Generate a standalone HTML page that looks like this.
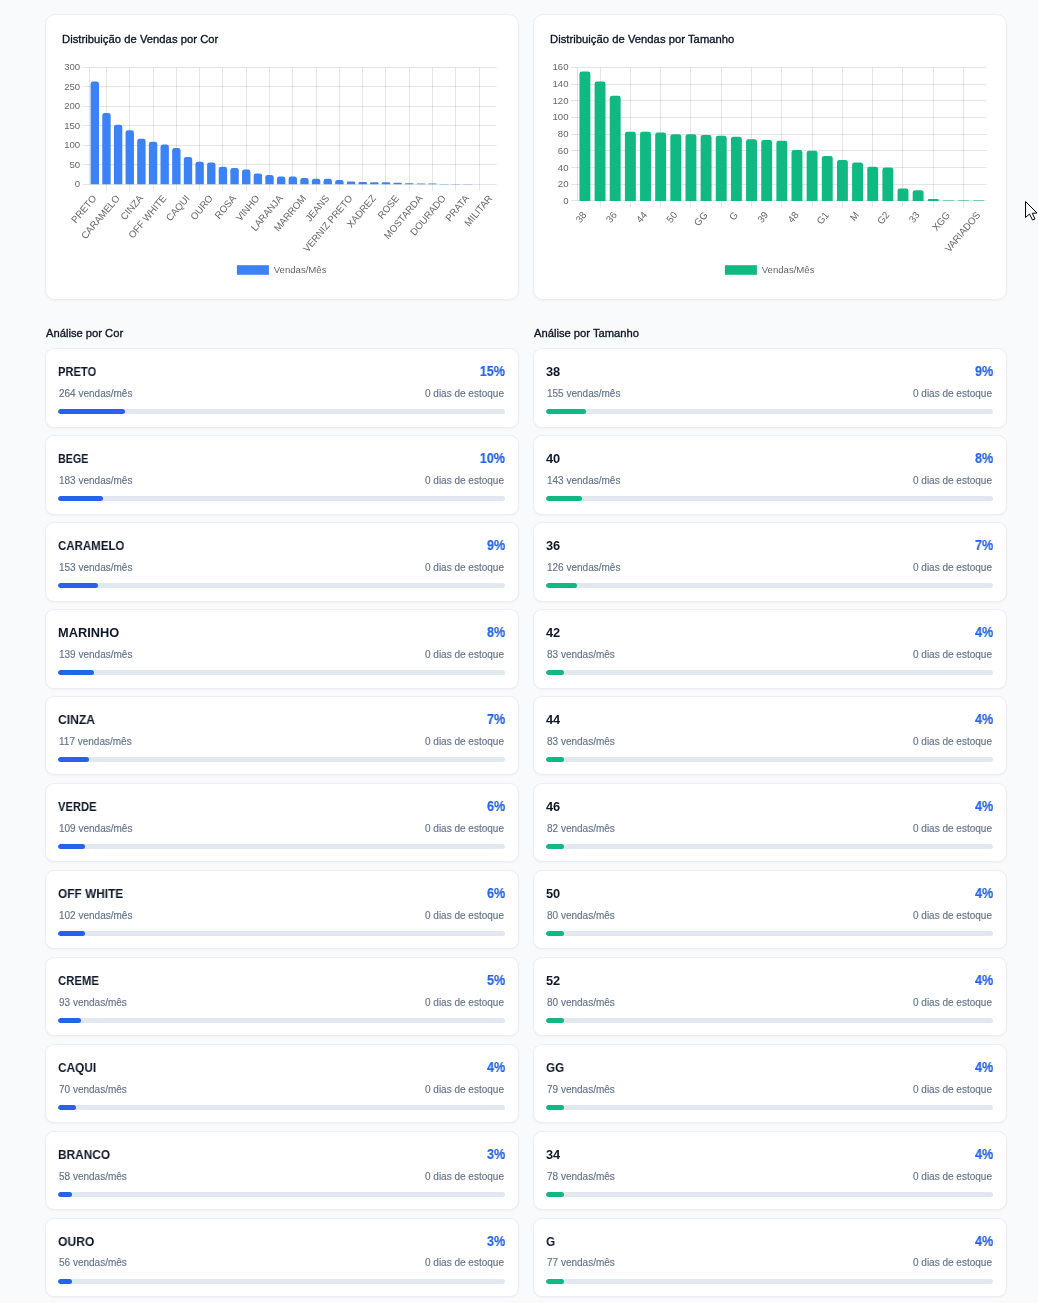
<!DOCTYPE html>
<html><head><meta charset="utf-8">
<style>
*{box-sizing:border-box;margin:0;padding:0}
html,body{width:1038px;height:1303px;overflow:hidden;background:#f8fafc;font-family:"Liberation Sans",sans-serif}
.card{position:absolute;top:14px;width:474px;height:286px;background:#fff;border:1px solid #edeef1;border-radius:10px;box-shadow:0 1px 2px rgba(0,0,0,0.04)}
.ct{position:absolute;left:15.5px;top:17px;font-size:11.2px;letter-spacing:0.05px;color:#111827;-webkit-text-stroke:0.35px #111827;white-space:nowrap;line-height:14px}
.h{position:absolute;top:326px;font-size:11.2px;color:#111827;-webkit-text-stroke:0.35px #111827;white-space:nowrap;line-height:14px}
.lc{position:absolute;width:474px;height:79.3px;background:#fff;border:1px solid #edeef1;border-radius:9px;box-shadow:0 1px 2px rgba(0,0,0,0.04)}
.nm{position:absolute;left:12.2px;top:14.8px;transform-origin:0 0;font-size:12.8px;font-weight:bold;color:#0f172a;white-space:nowrap;line-height:16px}
.pc{position:absolute;right:13.2px;top:13.7px;font-size:14px;transform:scaleX(0.9);transform-origin:100% 0;font-weight:bold;color:#2563eb;-webkit-text-stroke:0.2px #2563eb;white-space:nowrap;line-height:16px}
.sb{position:absolute;left:12.8px;top:38.6px;font-size:10px;color:#64748b;-webkit-text-stroke:0.15px #64748b;white-space:nowrap;line-height:12px}
.sr{position:absolute;right:14px;top:38.6px;font-size:10px;color:#64748b;-webkit-text-stroke:0.15px #64748b;white-space:nowrap;line-height:12px}
.tr{position:absolute;left:12.2px;top:60px;width:447px;height:4.8px;border-radius:3px;background:#e2e8f0;overflow:hidden}
.fl{height:100%;border-radius:3px}
svg{position:absolute;left:0;top:0;will-change:transform}
.ct,.h,.nm,.pc,.sb,.sr{will-change:transform}
.tk{font-family:"Liberation Sans",sans-serif;font-size:9.6px;fill:#666}
</style></head><body>
<div class="card" style="left:45px"><div class="ct">Distribuição de Vendas por Cor</div></div>
<div class="card" style="left:533px"><div class="ct">Distribuição de Vendas por Tamanho</div></div>
<svg width="1038" height="310" viewBox="0 0 1038 310">
<line x1="82.60" y1="184.5" x2="496.60" y2="184.5" stroke="rgba(0,0,0,0.1)" stroke-width="1"/>
<text x="80.20" y="183.70" text-anchor="end" dominant-baseline="central" class="tk" transform="translate(0 183.70) scale(1 1.03) translate(0 -183.70)">0</text>
<line x1="82.60" y1="164.5" x2="496.60" y2="164.5" stroke="rgba(0,0,0,0.1)" stroke-width="1"/>
<text x="80.20" y="164.22" text-anchor="end" dominant-baseline="central" class="tk" transform="translate(0 164.22) scale(1 1.03) translate(0 -164.22)">50</text>
<line x1="82.60" y1="145.5" x2="496.60" y2="145.5" stroke="rgba(0,0,0,0.1)" stroke-width="1"/>
<text x="80.20" y="144.73" text-anchor="end" dominant-baseline="central" class="tk" transform="translate(0 144.73) scale(1 1.03) translate(0 -144.73)">100</text>
<line x1="82.60" y1="125.5" x2="496.60" y2="125.5" stroke="rgba(0,0,0,0.1)" stroke-width="1"/>
<text x="80.20" y="125.25" text-anchor="end" dominant-baseline="central" class="tk" transform="translate(0 125.25) scale(1 1.03) translate(0 -125.25)">150</text>
<line x1="82.60" y1="106.5" x2="496.60" y2="106.5" stroke="rgba(0,0,0,0.1)" stroke-width="1"/>
<text x="80.20" y="105.77" text-anchor="end" dominant-baseline="central" class="tk" transform="translate(0 105.77) scale(1 1.03) translate(0 -105.77)">200</text>
<line x1="82.60" y1="86.5" x2="496.60" y2="86.5" stroke="rgba(0,0,0,0.1)" stroke-width="1"/>
<text x="80.20" y="86.28" text-anchor="end" dominant-baseline="central" class="tk" transform="translate(0 86.28) scale(1 1.03) translate(0 -86.28)">250</text>
<line x1="82.60" y1="67.5" x2="496.60" y2="67.5" stroke="rgba(0,0,0,0.1)" stroke-width="1"/>
<text x="80.20" y="66.80" text-anchor="end" dominant-baseline="central" class="tk" transform="translate(0 66.80) scale(1 1.03) translate(0 -66.80)">300</text>
<line x1="106.5" y1="67.40" x2="106.5" y2="190.70" stroke="rgba(0,0,0,0.1)" stroke-width="1"/>
<line x1="129.5" y1="67.40" x2="129.5" y2="190.70" stroke="rgba(0,0,0,0.1)" stroke-width="1"/>
<line x1="153.5" y1="67.40" x2="153.5" y2="190.70" stroke="rgba(0,0,0,0.1)" stroke-width="1"/>
<line x1="176.5" y1="67.40" x2="176.5" y2="190.70" stroke="rgba(0,0,0,0.1)" stroke-width="1"/>
<line x1="199.5" y1="67.40" x2="199.5" y2="190.70" stroke="rgba(0,0,0,0.1)" stroke-width="1"/>
<line x1="222.5" y1="67.40" x2="222.5" y2="190.70" stroke="rgba(0,0,0,0.1)" stroke-width="1"/>
<line x1="246.5" y1="67.40" x2="246.5" y2="190.70" stroke="rgba(0,0,0,0.1)" stroke-width="1"/>
<line x1="269.5" y1="67.40" x2="269.5" y2="190.70" stroke="rgba(0,0,0,0.1)" stroke-width="1"/>
<line x1="292.5" y1="67.40" x2="292.5" y2="190.70" stroke="rgba(0,0,0,0.1)" stroke-width="1"/>
<line x1="316.5" y1="67.40" x2="316.5" y2="190.70" stroke="rgba(0,0,0,0.1)" stroke-width="1"/>
<line x1="339.5" y1="67.40" x2="339.5" y2="190.70" stroke="rgba(0,0,0,0.1)" stroke-width="1"/>
<line x1="362.5" y1="67.40" x2="362.5" y2="190.70" stroke="rgba(0,0,0,0.1)" stroke-width="1"/>
<line x1="385.5" y1="67.40" x2="385.5" y2="190.70" stroke="rgba(0,0,0,0.1)" stroke-width="1"/>
<line x1="409.5" y1="67.40" x2="409.5" y2="190.70" stroke="rgba(0,0,0,0.1)" stroke-width="1"/>
<line x1="432.5" y1="67.40" x2="432.5" y2="190.70" stroke="rgba(0,0,0,0.1)" stroke-width="1"/>
<line x1="455.5" y1="67.40" x2="455.5" y2="190.70" stroke="rgba(0,0,0,0.1)" stroke-width="1"/>
<line x1="479.5" y1="67.40" x2="479.5" y2="190.70" stroke="rgba(0,0,0,0.1)" stroke-width="1"/>
<line x1="89.5" y1="67.40" x2="89.5" y2="184.30" stroke="rgba(0,0,0,0.1)" stroke-width="1"/>
<path d="M90.63,184.30 L90.63,83.83 Q90.63,81.43 93.03,81.43 L96.62,81.43 Q99.02,81.43 99.02,83.83 L99.02,184.30 Z" fill="#3b82f6"/>
<path d="M102.28,184.30 L102.28,115.39 Q102.28,112.99 104.68,112.99 L108.26,112.99 Q110.66,112.99 110.66,115.39 L110.66,184.30 Z" fill="#3b82f6"/>
<path d="M113.92,184.30 L113.92,127.08 Q113.92,124.68 116.32,124.68 L119.91,124.68 Q122.31,124.68 122.31,127.08 L122.31,184.30 Z" fill="#3b82f6"/>
<path d="M125.57,184.30 L125.57,132.54 Q125.57,130.14 127.97,130.14 L131.55,130.14 Q133.95,130.14 133.95,132.54 L133.95,184.30 Z" fill="#3b82f6"/>
<path d="M137.21,184.30 L137.21,141.11 Q137.21,138.71 139.61,138.71 L143.20,138.71 Q145.60,138.71 145.60,141.11 L145.60,184.30 Z" fill="#3b82f6"/>
<path d="M148.86,184.30 L148.86,144.23 Q148.86,141.83 151.26,141.83 L154.84,141.83 Q157.24,141.83 157.24,144.23 L157.24,184.30 Z" fill="#3b82f6"/>
<path d="M160.50,184.30 L160.50,146.95 Q160.50,144.55 162.90,144.55 L166.49,144.55 Q168.89,144.55 168.89,146.95 L168.89,184.30 Z" fill="#3b82f6"/>
<path d="M172.15,184.30 L172.15,150.46 Q172.15,148.06 174.55,148.06 L178.14,148.06 Q180.54,148.06 180.54,150.46 L180.54,184.30 Z" fill="#3b82f6"/>
<path d="M183.80,184.30 L183.80,159.42 Q183.80,157.02 186.20,157.02 L189.78,157.02 Q192.18,157.02 192.18,159.42 L192.18,184.30 Z" fill="#3b82f6"/>
<path d="M195.44,184.30 L195.44,164.10 Q195.44,161.70 197.84,161.70 L201.43,161.70 Q203.83,161.70 203.83,164.10 L203.83,184.30 Z" fill="#3b82f6"/>
<path d="M207.09,184.30 L207.09,164.88 Q207.09,162.48 209.49,162.48 L213.07,162.48 Q215.47,162.48 215.47,164.88 L215.47,184.30 Z" fill="#3b82f6"/>
<path d="M218.73,184.30 L218.73,169.17 Q218.73,166.77 221.13,166.77 L224.72,166.77 Q227.12,166.77 227.12,169.17 L227.12,184.30 Z" fill="#3b82f6"/>
<path d="M230.38,184.30 L230.38,170.33 Q230.38,167.93 232.78,167.93 L236.36,167.93 Q238.76,167.93 238.76,170.33 L238.76,184.30 Z" fill="#3b82f6"/>
<path d="M242.02,184.30 L242.02,171.89 Q242.02,169.49 244.42,169.49 L248.01,169.49 Q250.41,169.49 250.41,171.89 L250.41,184.30 Z" fill="#3b82f6"/>
<path d="M253.67,184.30 L253.67,175.79 Q253.67,173.39 256.07,173.39 L259.66,173.39 Q262.06,173.39 262.06,175.79 L262.06,184.30 Z" fill="#3b82f6"/>
<path d="M265.32,184.30 L265.32,177.35 Q265.32,174.95 267.72,174.95 L271.30,174.95 Q273.70,174.95 273.70,177.35 L273.70,184.30 Z" fill="#3b82f6"/>
<path d="M276.96,184.30 L276.96,178.91 Q276.96,176.51 279.36,176.51 L282.95,176.51 Q285.35,176.51 285.35,178.91 L285.35,184.30 Z" fill="#3b82f6"/>
<path d="M288.61,184.30 L288.61,178.91 Q288.61,176.51 291.01,176.51 L294.59,176.51 Q296.99,176.51 296.99,178.91 L296.99,184.30 Z" fill="#3b82f6"/>
<path d="M300.25,184.30 L300.25,180.47 Q300.25,178.07 302.65,178.07 L306.24,178.07 Q308.64,178.07 308.64,180.47 L308.64,184.30 Z" fill="#3b82f6"/>
<path d="M311.90,184.30 L311.90,181.24 Q311.90,178.84 314.30,178.84 L317.88,178.84 Q320.28,178.84 320.28,181.24 L320.28,184.30 Z" fill="#3b82f6"/>
<path d="M323.54,184.30 L323.54,181.24 Q323.54,178.84 325.94,178.84 L329.53,178.84 Q331.93,178.84 331.93,181.24 L331.93,184.30 Z" fill="#3b82f6"/>
<path d="M335.19,184.30 L335.19,182.16 Q335.19,180.01 337.33,180.01 L341.43,180.01 Q343.58,180.01 343.58,182.16 L343.58,184.30 Z" fill="#3b82f6"/>
<path d="M346.84,184.30 L346.84,182.94 Q346.84,181.57 348.20,181.57 L353.86,181.57 Q355.22,181.57 355.22,182.94 L355.22,184.30 Z" fill="#3b82f6"/>
<path d="M358.48,184.30 L358.48,183.13 Q358.48,181.96 359.65,181.96 L365.70,181.96 Q366.87,181.96 366.87,183.13 L366.87,184.30 Z" fill="#3b82f6"/>
<path d="M370.13,184.30 L370.13,183.33 Q370.13,182.35 371.10,182.35 L377.54,182.35 Q378.51,182.35 378.51,183.33 L378.51,184.30 Z" fill="#3b82f6"/>
<path d="M381.77,184.30 L381.77,183.33 Q381.77,182.35 382.75,182.35 L389.18,182.35 Q390.16,182.35 390.16,183.33 L390.16,184.30 Z" fill="#3b82f6"/>
<path d="M393.42,184.30 L393.42,183.52 Q393.42,182.74 394.20,182.74 L401.02,182.74 Q401.80,182.74 401.80,183.52 L401.80,184.30 Z" fill="#3b82f6"/>
<path d="M405.06,184.30 L405.06,183.72 Q405.06,183.13 405.65,183.13 L412.87,183.13 Q413.45,183.13 413.45,183.72 L413.45,184.30 Z" fill="#3b82f6"/>
<path d="M416.71,184.30 L416.71,183.91 Q416.71,183.52 417.10,183.52 L424.71,183.52 Q425.10,183.52 425.10,183.91 L425.10,184.30 Z" fill="#3b82f6"/>
<path d="M428.36,184.30 L428.36,183.91 Q428.36,183.52 428.75,183.52 L436.35,183.52 Q436.74,183.52 436.74,183.91 L436.74,184.30 Z" fill="#3b82f6"/>
<path d="M440.00,184.30 L440.00,184.11 Q440.00,183.91 440.20,183.91 L448.19,183.91 Q448.39,183.91 448.39,184.11 L448.39,184.30 Z" fill="#3b82f6"/>
<path d="M451.65,184.30 L451.65,184.11 Q451.65,183.91 451.84,183.91 L459.84,183.91 Q460.03,183.91 460.03,184.11 L460.03,184.30 Z" fill="#3b82f6"/>
<path d="M463.29,184.30 L463.29,184.11 Q463.29,183.91 463.49,183.91 L471.48,183.91 Q471.68,183.91 471.68,184.11 L471.68,184.30 Z" fill="#3b82f6"/>
<text x="94.22" y="196.30" text-anchor="end" dominant-baseline="central" transform="rotate(-50 94.22 196.30) translate(0 196.30) scale(1 1.03) translate(0 -196.30)" class="tk">PRETO</text>
<text x="117.51" y="196.30" text-anchor="end" dominant-baseline="central" transform="rotate(-50 117.51 196.30) translate(0 196.30) scale(1 1.03) translate(0 -196.30)" class="tk">CARAMELO</text>
<text x="140.81" y="196.30" text-anchor="end" dominant-baseline="central" transform="rotate(-50 140.81 196.30) translate(0 196.30) scale(1 1.03) translate(0 -196.30)" class="tk">CINZA</text>
<text x="164.10" y="196.30" text-anchor="end" dominant-baseline="central" transform="rotate(-50 164.10 196.30) translate(0 196.30) scale(1 1.03) translate(0 -196.30)" class="tk">OFF WHITE</text>
<text x="187.39" y="196.30" text-anchor="end" dominant-baseline="central" transform="rotate(-50 187.39 196.30) translate(0 196.30) scale(1 1.03) translate(0 -196.30)" class="tk">CAQUI</text>
<text x="210.68" y="196.30" text-anchor="end" dominant-baseline="central" transform="rotate(-50 210.68 196.30) translate(0 196.30) scale(1 1.03) translate(0 -196.30)" class="tk">OURO</text>
<text x="233.97" y="196.30" text-anchor="end" dominant-baseline="central" transform="rotate(-50 233.97 196.30) translate(0 196.30) scale(1 1.03) translate(0 -196.30)" class="tk">ROSA</text>
<text x="257.26" y="196.30" text-anchor="end" dominant-baseline="central" transform="rotate(-50 257.26 196.30) translate(0 196.30) scale(1 1.03) translate(0 -196.30)" class="tk">VINHO</text>
<text x="280.55" y="196.30" text-anchor="end" dominant-baseline="central" transform="rotate(-50 280.55 196.30) translate(0 196.30) scale(1 1.03) translate(0 -196.30)" class="tk">LARANJA</text>
<text x="303.85" y="196.30" text-anchor="end" dominant-baseline="central" transform="rotate(-50 303.85 196.30) translate(0 196.30) scale(1 1.03) translate(0 -196.30)" class="tk">MARROM</text>
<text x="327.14" y="196.30" text-anchor="end" dominant-baseline="central" transform="rotate(-50 327.14 196.30) translate(0 196.30) scale(1 1.03) translate(0 -196.30)" class="tk">JEANS</text>
<text x="350.43" y="196.30" text-anchor="end" dominant-baseline="central" transform="rotate(-50 350.43 196.30) translate(0 196.30) scale(1 1.03) translate(0 -196.30)" class="tk">VERNIZ PRETO</text>
<text x="373.72" y="196.30" text-anchor="end" dominant-baseline="central" transform="rotate(-50 373.72 196.30) translate(0 196.30) scale(1 1.03) translate(0 -196.30)" class="tk">XADREZ</text>
<text x="397.01" y="196.30" text-anchor="end" dominant-baseline="central" transform="rotate(-50 397.01 196.30) translate(0 196.30) scale(1 1.03) translate(0 -196.30)" class="tk">ROSE</text>
<text x="420.30" y="196.30" text-anchor="end" dominant-baseline="central" transform="rotate(-50 420.30 196.30) translate(0 196.30) scale(1 1.03) translate(0 -196.30)" class="tk">MOSTARDA</text>
<text x="443.59" y="196.30" text-anchor="end" dominant-baseline="central" transform="rotate(-50 443.59 196.30) translate(0 196.30) scale(1 1.03) translate(0 -196.30)" class="tk">DOURADO</text>
<text x="466.89" y="196.30" text-anchor="end" dominant-baseline="central" transform="rotate(-50 466.89 196.30) translate(0 196.30) scale(1 1.03) translate(0 -196.30)" class="tk">PRATA</text>
<text x="490.18" y="196.30" text-anchor="end" dominant-baseline="central" transform="rotate(-50 490.18 196.30) translate(0 196.30) scale(1 1.03) translate(0 -196.30)" class="tk">MILITAR</text>
<rect x="236.90" y="265.2" width="32" height="9.6" fill="#3b82f6"/>
<text x="273.70" y="269.2" dominant-baseline="central" class="tk" transform="translate(0 269.2) scale(1 1.03) translate(0 -269.2)">Vendas/Mês</text>
<line x1="570.94" y1="200.5" x2="986.30" y2="200.5" stroke="rgba(0,0,0,0.1)" stroke-width="1"/>
<text x="568.54" y="200.40" text-anchor="end" dominant-baseline="central" class="tk" transform="translate(0 200.40) scale(1 1.03) translate(0 -200.40)">0</text>
<line x1="570.94" y1="184.5" x2="986.30" y2="184.5" stroke="rgba(0,0,0,0.1)" stroke-width="1"/>
<text x="568.54" y="183.69" text-anchor="end" dominant-baseline="central" class="tk" transform="translate(0 183.69) scale(1 1.03) translate(0 -183.69)">20</text>
<line x1="570.94" y1="167.5" x2="986.30" y2="167.5" stroke="rgba(0,0,0,0.1)" stroke-width="1"/>
<text x="568.54" y="166.97" text-anchor="end" dominant-baseline="central" class="tk" transform="translate(0 166.97) scale(1 1.03) translate(0 -166.97)">40</text>
<line x1="570.94" y1="150.5" x2="986.30" y2="150.5" stroke="rgba(0,0,0,0.1)" stroke-width="1"/>
<text x="568.54" y="150.26" text-anchor="end" dominant-baseline="central" class="tk" transform="translate(0 150.26) scale(1 1.03) translate(0 -150.26)">60</text>
<line x1="570.94" y1="134.5" x2="986.30" y2="134.5" stroke="rgba(0,0,0,0.1)" stroke-width="1"/>
<text x="568.54" y="133.55" text-anchor="end" dominant-baseline="central" class="tk" transform="translate(0 133.55) scale(1 1.03) translate(0 -133.55)">80</text>
<line x1="570.94" y1="117.5" x2="986.30" y2="117.5" stroke="rgba(0,0,0,0.1)" stroke-width="1"/>
<text x="568.54" y="116.84" text-anchor="end" dominant-baseline="central" class="tk" transform="translate(0 116.84) scale(1 1.03) translate(0 -116.84)">100</text>
<line x1="570.94" y1="100.5" x2="986.30" y2="100.5" stroke="rgba(0,0,0,0.1)" stroke-width="1"/>
<text x="568.54" y="100.13" text-anchor="end" dominant-baseline="central" class="tk" transform="translate(0 100.13) scale(1 1.03) translate(0 -100.13)">120</text>
<line x1="570.94" y1="84.5" x2="986.30" y2="84.5" stroke="rgba(0,0,0,0.1)" stroke-width="1"/>
<text x="568.54" y="83.41" text-anchor="end" dominant-baseline="central" class="tk" transform="translate(0 83.41) scale(1 1.03) translate(0 -83.41)">140</text>
<line x1="570.94" y1="67.5" x2="986.30" y2="67.5" stroke="rgba(0,0,0,0.1)" stroke-width="1"/>
<text x="568.54" y="66.70" text-anchor="end" dominant-baseline="central" class="tk" transform="translate(0 66.70) scale(1 1.03) translate(0 -66.70)">160</text>
<line x1="600.5" y1="67.30" x2="600.5" y2="207.40" stroke="rgba(0,0,0,0.1)" stroke-width="1"/>
<line x1="630.5" y1="67.30" x2="630.5" y2="207.40" stroke="rgba(0,0,0,0.1)" stroke-width="1"/>
<line x1="660.5" y1="67.30" x2="660.5" y2="207.40" stroke="rgba(0,0,0,0.1)" stroke-width="1"/>
<line x1="690.5" y1="67.30" x2="690.5" y2="207.40" stroke="rgba(0,0,0,0.1)" stroke-width="1"/>
<line x1="721.5" y1="67.30" x2="721.5" y2="207.40" stroke="rgba(0,0,0,0.1)" stroke-width="1"/>
<line x1="751.5" y1="67.30" x2="751.5" y2="207.40" stroke="rgba(0,0,0,0.1)" stroke-width="1"/>
<line x1="781.5" y1="67.30" x2="781.5" y2="207.40" stroke="rgba(0,0,0,0.1)" stroke-width="1"/>
<line x1="812.5" y1="67.30" x2="812.5" y2="207.40" stroke="rgba(0,0,0,0.1)" stroke-width="1"/>
<line x1="842.5" y1="67.30" x2="842.5" y2="207.40" stroke="rgba(0,0,0,0.1)" stroke-width="1"/>
<line x1="872.5" y1="67.30" x2="872.5" y2="207.40" stroke="rgba(0,0,0,0.1)" stroke-width="1"/>
<line x1="902.5" y1="67.30" x2="902.5" y2="207.40" stroke="rgba(0,0,0,0.1)" stroke-width="1"/>
<line x1="933.5" y1="67.30" x2="933.5" y2="207.40" stroke="rgba(0,0,0,0.1)" stroke-width="1"/>
<line x1="963.5" y1="67.30" x2="963.5" y2="207.40" stroke="rgba(0,0,0,0.1)" stroke-width="1"/>
<line x1="577.5" y1="67.30" x2="577.5" y2="201.00" stroke="rgba(0,0,0,0.1)" stroke-width="1"/>
<path d="M579.46,201.00 L579.46,73.88 Q579.46,71.48 581.86,71.48 L587.97,71.48 Q590.37,71.48 590.37,73.88 L590.37,201.00 Z" fill="#10b981"/>
<path d="M594.61,201.00 L594.61,83.91 Q594.61,81.51 597.01,81.51 L603.11,81.51 Q605.51,81.51 605.51,83.91 L605.51,201.00 Z" fill="#10b981"/>
<path d="M609.75,201.00 L609.75,98.11 Q609.75,95.71 612.15,95.71 L618.26,95.71 Q620.66,95.71 620.66,98.11 L620.66,201.00 Z" fill="#10b981"/>
<path d="M624.90,201.00 L624.90,134.04 Q624.90,131.64 627.30,131.64 L633.41,131.64 Q635.81,131.64 635.81,134.04 L635.81,201.00 Z" fill="#10b981"/>
<path d="M640.05,201.00 L640.05,134.04 Q640.05,131.64 642.45,131.64 L648.55,131.64 Q650.95,131.64 650.95,134.04 L650.95,201.00 Z" fill="#10b981"/>
<path d="M655.19,201.00 L655.19,134.88 Q655.19,132.48 657.59,132.48 L663.70,132.48 Q666.10,132.48 666.10,134.88 L666.10,201.00 Z" fill="#10b981"/>
<path d="M670.34,201.00 L670.34,136.55 Q670.34,134.15 672.74,134.15 L678.85,134.15 Q681.25,134.15 681.25,136.55 L681.25,201.00 Z" fill="#10b981"/>
<path d="M685.49,201.00 L685.49,136.55 Q685.49,134.15 687.89,134.15 L693.99,134.15 Q696.39,134.15 696.39,136.55 L696.39,201.00 Z" fill="#10b981"/>
<path d="M700.63,201.00 L700.63,137.39 Q700.63,134.99 703.03,134.99 L709.14,134.99 Q711.54,134.99 711.54,137.39 L711.54,201.00 Z" fill="#10b981"/>
<path d="M715.78,201.00 L715.78,138.22 Q715.78,135.82 718.18,135.82 L724.29,135.82 Q726.69,135.82 726.69,138.22 L726.69,201.00 Z" fill="#10b981"/>
<path d="M730.93,201.00 L730.93,139.06 Q730.93,136.66 733.33,136.66 L739.43,136.66 Q741.83,136.66 741.83,139.06 L741.83,201.00 Z" fill="#10b981"/>
<path d="M746.07,201.00 L746.07,141.56 Q746.07,139.16 748.47,139.16 L754.58,139.16 Q756.98,139.16 756.98,141.56 L756.98,201.00 Z" fill="#10b981"/>
<path d="M761.22,201.00 L761.22,142.40 Q761.22,140.00 763.62,140.00 L769.73,140.00 Q772.13,140.00 772.13,142.40 L772.13,201.00 Z" fill="#10b981"/>
<path d="M776.37,201.00 L776.37,143.24 Q776.37,140.84 778.77,140.84 L784.87,140.84 Q787.27,140.84 787.27,143.24 L787.27,201.00 Z" fill="#10b981"/>
<path d="M791.51,201.00 L791.51,152.43 Q791.51,150.03 793.91,150.03 L800.02,150.03 Q802.42,150.03 802.42,152.43 L802.42,201.00 Z" fill="#10b981"/>
<path d="M806.66,201.00 L806.66,153.26 Q806.66,150.86 809.06,150.86 L815.17,150.86 Q817.57,150.86 817.57,153.26 L817.57,201.00 Z" fill="#10b981"/>
<path d="M821.81,201.00 L821.81,158.28 Q821.81,155.88 824.21,155.88 L830.31,155.88 Q832.71,155.88 832.71,158.28 L832.71,201.00 Z" fill="#10b981"/>
<path d="M836.95,201.00 L836.95,162.45 Q836.95,160.05 839.35,160.05 L845.46,160.05 Q847.86,160.05 847.86,162.45 L847.86,201.00 Z" fill="#10b981"/>
<path d="M852.10,201.00 L852.10,164.96 Q852.10,162.56 854.50,162.56 L860.61,162.56 Q863.01,162.56 863.01,164.96 L863.01,201.00 Z" fill="#10b981"/>
<path d="M867.25,201.00 L867.25,169.14 Q867.25,166.74 869.65,166.74 L875.75,166.74 Q878.15,166.74 878.15,169.14 L878.15,201.00 Z" fill="#10b981"/>
<path d="M882.39,201.00 L882.39,169.97 Q882.39,167.57 884.79,167.57 L890.90,167.57 Q893.30,167.57 893.30,169.97 L893.30,201.00 Z" fill="#10b981"/>
<path d="M897.54,201.00 L897.54,190.87 Q897.54,188.47 899.94,188.47 L906.05,188.47 Q908.45,188.47 908.45,190.87 L908.45,201.00 Z" fill="#10b981"/>
<path d="M912.69,201.00 L912.69,192.54 Q912.69,190.14 915.09,190.14 L921.19,190.14 Q923.59,190.14 923.59,192.54 L923.59,201.00 Z" fill="#10b981"/>
<path d="M927.83,201.00 L927.83,199.96 Q927.83,198.91 928.88,198.91 L937.69,198.91 Q938.74,198.91 938.74,199.96 L938.74,201.00 Z" fill="#10b981"/>
<path d="M942.98,201.00 L942.98,200.75 Q942.98,200.50 943.23,200.50 L953.64,200.50 Q953.89,200.50 953.89,200.75 L953.89,201.00 Z" fill="#10b981"/>
<path d="M958.13,201.00 L958.13,200.75 Q958.13,200.50 958.38,200.50 L968.78,200.50 Q969.03,200.50 969.03,200.75 L969.03,201.00 Z" fill="#10b981"/>
<path d="M973.27,201.00 L973.27,200.75 Q973.27,200.50 973.52,200.50 L983.93,200.50 Q984.18,200.50 984.18,200.75 L984.18,201.00 Z" fill="#10b981"/>
<text x="584.31" y="213.00" text-anchor="end" dominant-baseline="central" transform="rotate(-50 584.31 213.00) translate(0 213.00) scale(1 1.03) translate(0 -213.00)" class="tk">38</text>
<text x="614.61" y="213.00" text-anchor="end" dominant-baseline="central" transform="rotate(-50 614.61 213.00) translate(0 213.00) scale(1 1.03) translate(0 -213.00)" class="tk">36</text>
<text x="644.90" y="213.00" text-anchor="end" dominant-baseline="central" transform="rotate(-50 644.90 213.00) translate(0 213.00) scale(1 1.03) translate(0 -213.00)" class="tk">44</text>
<text x="675.19" y="213.00" text-anchor="end" dominant-baseline="central" transform="rotate(-50 675.19 213.00) translate(0 213.00) scale(1 1.03) translate(0 -213.00)" class="tk">50</text>
<text x="705.49" y="213.00" text-anchor="end" dominant-baseline="central" transform="rotate(-50 705.49 213.00) translate(0 213.00) scale(1 1.03) translate(0 -213.00)" class="tk">GG</text>
<text x="735.78" y="213.00" text-anchor="end" dominant-baseline="central" transform="rotate(-50 735.78 213.00) translate(0 213.00) scale(1 1.03) translate(0 -213.00)" class="tk">G</text>
<text x="766.07" y="213.00" text-anchor="end" dominant-baseline="central" transform="rotate(-50 766.07 213.00) translate(0 213.00) scale(1 1.03) translate(0 -213.00)" class="tk">39</text>
<text x="796.37" y="213.00" text-anchor="end" dominant-baseline="central" transform="rotate(-50 796.37 213.00) translate(0 213.00) scale(1 1.03) translate(0 -213.00)" class="tk">48</text>
<text x="826.66" y="213.00" text-anchor="end" dominant-baseline="central" transform="rotate(-50 826.66 213.00) translate(0 213.00) scale(1 1.03) translate(0 -213.00)" class="tk">G1</text>
<text x="856.95" y="213.00" text-anchor="end" dominant-baseline="central" transform="rotate(-50 856.95 213.00) translate(0 213.00) scale(1 1.03) translate(0 -213.00)" class="tk">M</text>
<text x="887.25" y="213.00" text-anchor="end" dominant-baseline="central" transform="rotate(-50 887.25 213.00) translate(0 213.00) scale(1 1.03) translate(0 -213.00)" class="tk">G2</text>
<text x="917.54" y="213.00" text-anchor="end" dominant-baseline="central" transform="rotate(-50 917.54 213.00) translate(0 213.00) scale(1 1.03) translate(0 -213.00)" class="tk">33</text>
<text x="947.83" y="213.00" text-anchor="end" dominant-baseline="central" transform="rotate(-50 947.83 213.00) translate(0 213.00) scale(1 1.03) translate(0 -213.00)" class="tk">XGG</text>
<text x="978.13" y="213.00" text-anchor="end" dominant-baseline="central" transform="rotate(-50 978.13 213.00) translate(0 213.00) scale(1 1.03) translate(0 -213.00)" class="tk">VARIADOS</text>
<rect x="724.90" y="265.2" width="32" height="9.6" fill="#10b981"/>
<text x="761.70" y="269.2" dominant-baseline="central" class="tk" transform="translate(0 269.2) scale(1 1.03) translate(0 -269.2)">Vendas/Mês</text>
</svg>
<div class="h" style="left:46px">Análise por Cor</div>
<div class="h" style="left:534px">Análise por Tamanho</div>
<div class="lc" style="left:45px;top:348.4px">
<div class="nm" style="transform:scaleX(0.87)">PRETO</div><div class="pc">15%</div>
<div class="sb">264 vendas/mês</div><div class="sr">0 dias de estoque</div>
<div class="tr"><div class="fl" style="width:67.05px;background:#2563eb"></div></div>
</div>
<div class="lc" style="left:45px;top:435.35px">
<div class="nm" style="transform:scaleX(0.837)">BEGE</div><div class="pc">10%</div>
<div class="sb">183 vendas/mês</div><div class="sr">0 dias de estoque</div>
<div class="tr"><div class="fl" style="width:44.70px;background:#2563eb"></div></div>
</div>
<div class="lc" style="left:45px;top:522.3px">
<div class="nm" style="transform:scaleX(0.897)">CARAMELO</div><div class="pc">9%</div>
<div class="sb">153 vendas/mês</div><div class="sr">0 dias de estoque</div>
<div class="tr"><div class="fl" style="width:40.23px;background:#2563eb"></div></div>
</div>
<div class="lc" style="left:45px;top:609.25px">
<div class="nm" style="transform:scaleX(1.0)">MARINHO</div><div class="pc">8%</div>
<div class="sb">139 vendas/mês</div><div class="sr">0 dias de estoque</div>
<div class="tr"><div class="fl" style="width:35.76px;background:#2563eb"></div></div>
</div>
<div class="lc" style="left:45px;top:696.2px">
<div class="nm" style="transform:scaleX(0.949)">CINZA</div><div class="pc">7%</div>
<div class="sb">117 vendas/mês</div><div class="sr">0 dias de estoque</div>
<div class="tr"><div class="fl" style="width:31.29px;background:#2563eb"></div></div>
</div>
<div class="lc" style="left:45px;top:783.15px">
<div class="nm" style="transform:scaleX(0.875)">VERDE</div><div class="pc">6%</div>
<div class="sb">109 vendas/mês</div><div class="sr">0 dias de estoque</div>
<div class="tr"><div class="fl" style="width:26.82px;background:#2563eb"></div></div>
</div>
<div class="lc" style="left:45px;top:870.1px">
<div class="nm" style="transform:scaleX(0.927)">OFF WHITE</div><div class="pc">6%</div>
<div class="sb">102 vendas/mês</div><div class="sr">0 dias de estoque</div>
<div class="tr"><div class="fl" style="width:26.82px;background:#2563eb"></div></div>
</div>
<div class="lc" style="left:45px;top:957.05px">
<div class="nm" style="transform:scaleX(0.883)">CREME</div><div class="pc">5%</div>
<div class="sb">93 vendas/mês</div><div class="sr">0 dias de estoque</div>
<div class="tr"><div class="fl" style="width:22.35px;background:#2563eb"></div></div>
</div>
<div class="lc" style="left:45px;top:1044.0px">
<div class="nm" style="transform:scaleX(0.924)">CAQUI</div><div class="pc">4%</div>
<div class="sb">70 vendas/mês</div><div class="sr">0 dias de estoque</div>
<div class="tr"><div class="fl" style="width:17.88px;background:#2563eb"></div></div>
</div>
<div class="lc" style="left:45px;top:1130.95px">
<div class="nm" style="transform:scaleX(0.927)">BRANCO</div><div class="pc">3%</div>
<div class="sb">58 vendas/mês</div><div class="sr">0 dias de estoque</div>
<div class="tr"><div class="fl" style="width:13.41px;background:#2563eb"></div></div>
</div>
<div class="lc" style="left:45px;top:1217.9px">
<div class="nm" style="transform:scaleX(0.945)">OURO</div><div class="pc">3%</div>
<div class="sb">56 vendas/mês</div><div class="sr">0 dias de estoque</div>
<div class="tr"><div class="fl" style="width:13.41px;background:#2563eb"></div></div>
</div>
<div class="lc" style="left:533px;top:348.4px">
<div class="nm" style="transform:scaleX(1.0)">38</div><div class="pc">9%</div>
<div class="sb">155 vendas/mês</div><div class="sr">0 dias de estoque</div>
<div class="tr"><div class="fl" style="width:40.23px;background:#10b981"></div></div>
</div>
<div class="lc" style="left:533px;top:435.35px">
<div class="nm" style="transform:scaleX(1.0)">40</div><div class="pc">8%</div>
<div class="sb">143 vendas/mês</div><div class="sr">0 dias de estoque</div>
<div class="tr"><div class="fl" style="width:35.76px;background:#10b981"></div></div>
</div>
<div class="lc" style="left:533px;top:522.3px">
<div class="nm" style="transform:scaleX(1.0)">36</div><div class="pc">7%</div>
<div class="sb">126 vendas/mês</div><div class="sr">0 dias de estoque</div>
<div class="tr"><div class="fl" style="width:31.29px;background:#10b981"></div></div>
</div>
<div class="lc" style="left:533px;top:609.25px">
<div class="nm" style="transform:scaleX(1.0)">42</div><div class="pc">4%</div>
<div class="sb">83 vendas/mês</div><div class="sr">0 dias de estoque</div>
<div class="tr"><div class="fl" style="width:17.88px;background:#10b981"></div></div>
</div>
<div class="lc" style="left:533px;top:696.2px">
<div class="nm" style="transform:scaleX(1.0)">44</div><div class="pc">4%</div>
<div class="sb">83 vendas/mês</div><div class="sr">0 dias de estoque</div>
<div class="tr"><div class="fl" style="width:17.88px;background:#10b981"></div></div>
</div>
<div class="lc" style="left:533px;top:783.15px">
<div class="nm" style="transform:scaleX(1.0)">46</div><div class="pc">4%</div>
<div class="sb">82 vendas/mês</div><div class="sr">0 dias de estoque</div>
<div class="tr"><div class="fl" style="width:17.88px;background:#10b981"></div></div>
</div>
<div class="lc" style="left:533px;top:870.1px">
<div class="nm" style="transform:scaleX(1.0)">50</div><div class="pc">4%</div>
<div class="sb">80 vendas/mês</div><div class="sr">0 dias de estoque</div>
<div class="tr"><div class="fl" style="width:17.88px;background:#10b981"></div></div>
</div>
<div class="lc" style="left:533px;top:957.05px">
<div class="nm" style="transform:scaleX(1.0)">52</div><div class="pc">4%</div>
<div class="sb">80 vendas/mês</div><div class="sr">0 dias de estoque</div>
<div class="tr"><div class="fl" style="width:17.88px;background:#10b981"></div></div>
</div>
<div class="lc" style="left:533px;top:1044.0px">
<div class="nm" style="transform:scaleX(0.911)">GG</div><div class="pc">4%</div>
<div class="sb">79 vendas/mês</div><div class="sr">0 dias de estoque</div>
<div class="tr"><div class="fl" style="width:17.88px;background:#10b981"></div></div>
</div>
<div class="lc" style="left:533px;top:1130.95px">
<div class="nm" style="transform:scaleX(1.0)">34</div><div class="pc">4%</div>
<div class="sb">78 vendas/mês</div><div class="sr">0 dias de estoque</div>
<div class="tr"><div class="fl" style="width:17.88px;background:#10b981"></div></div>
</div>
<div class="lc" style="left:533px;top:1217.9px">
<div class="nm" style="transform:scaleX(0.922)">G</div><div class="pc">4%</div>
<div class="sb">77 vendas/mês</div><div class="sr">0 dias de estoque</div>
<div class="tr"><div class="fl" style="width:17.88px;background:#10b981"></div></div>
</div>
<svg width="1038" height="1303" style="pointer-events:none"><path d="M1025.5,201.5 L1025.5,217.5 L1029.5,214 L1032.5,220 L1035,219 L1032.3,213.3 L1037,213 Z" fill="#fff" stroke="#000" stroke-width="1" stroke-linejoin="round"/></svg>
</body></html>
